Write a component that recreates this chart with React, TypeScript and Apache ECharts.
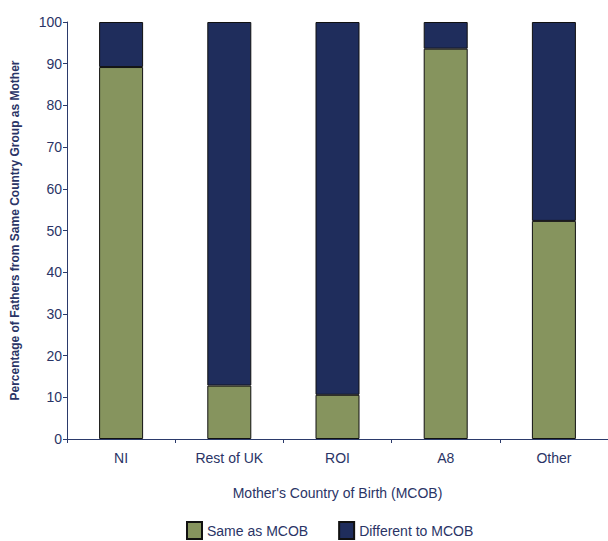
import React, { useEffect, useRef } from "react";
import * as echarts from "echarts";

const categories = ["NI", "Rest of UK", "ROI", "A8", "Other"];
const sameAsMCOB = [89.2, 12.8, 10.6, 93.6, 52.3];
const differentToMCOB = [10.8, 87.2, 89.4, 6.4, 47.7];
const seriesNames = ["Same as MCOB", "Different to MCOB"];

const FONT = "'Liberation Sans Narrow', 'Arial Narrow', 'Liberation Sans', Arial, sans-serif";
const TEXT = "#2a3466";
const AXIS = "#2b3a6b";

export default function App() {
  const ref = useRef<HTMLDivElement>(null);
  useEffect(() => {
    if (!ref.current) return;
    const chart = echarts.init(ref.current, undefined, { renderer: "svg" });
    chart.setOption({
      animation: false,
      backgroundColor: "#ffffff",
      textStyle: { fontFamily: FONT },
      grid: { left: 67, right: -8, top: 22, bottom: 102, containLabel: false },
      legend: {
        data: seriesNames,
        top: 521,
        left: 186,
        padding: 0,
        itemWidth: 15,
        itemHeight: 17,
        itemGap: 30,
        icon: "rect",
        textStyle: { color: TEXT, fontSize: 14, fontFamily: FONT },
      },
      xAxis: {
        type: "category",
        data: categories,
        name: "Mother's Country of Birth (MCOB)",
        nameLocation: "middle",
        nameGap: 47,
        nameTextStyle: { color: TEXT, fontSize: 14, fontFamily: FONT },
        axisLine: { lineStyle: { color: AXIS, width: 1 } },
        axisTick: { show: true, length: 4, alignWithLabel: false, lineStyle: { color: AXIS } },
        axisLabel: { color: TEXT, fontSize: 14, fontFamily: FONT, margin: 12 },
      },
      yAxis: {
        type: "value",
        min: 0,
        max: 100,
        interval: 10,
        name: "Percentage of Fathers from Same Country Group as Mother",
        nameLocation: "middle",
        nameGap: 46,
        nameTextStyle: { color: TEXT, fontSize: 12, fontWeight: "bold", fontFamily: FONT },
        axisLine: { show: true, lineStyle: { color: AXIS, width: 1 } },
        axisTick: { show: true, length: 4, lineStyle: { color: AXIS } },
        axisLabel: { color: TEXT, fontSize: 14, fontFamily: FONT, margin: 5 },
        splitLine: { show: false },
      },
      series: [
        {
          name: seriesNames[0],
          type: "bar",
          stack: "total",
          barWidth: 44,
          data: sameAsMCOB,
          itemStyle: { color: "#86945e", borderColor: "#111111", borderWidth: 1 },
        },
        {
          name: seriesNames[1],
          type: "bar",
          stack: "total",
          barWidth: 44,
          data: differentToMCOB,
          itemStyle: { color: "#1f2d5c", borderColor: "#111111", borderWidth: 1 },
        },
      ],
    });
    return () => chart.dispose();
  }, []);
  return (
    <div
      ref={ref}
      style={{ position: "absolute", left: 0, top: 0, width: 608, height: 541 }}
    />
  );
}
